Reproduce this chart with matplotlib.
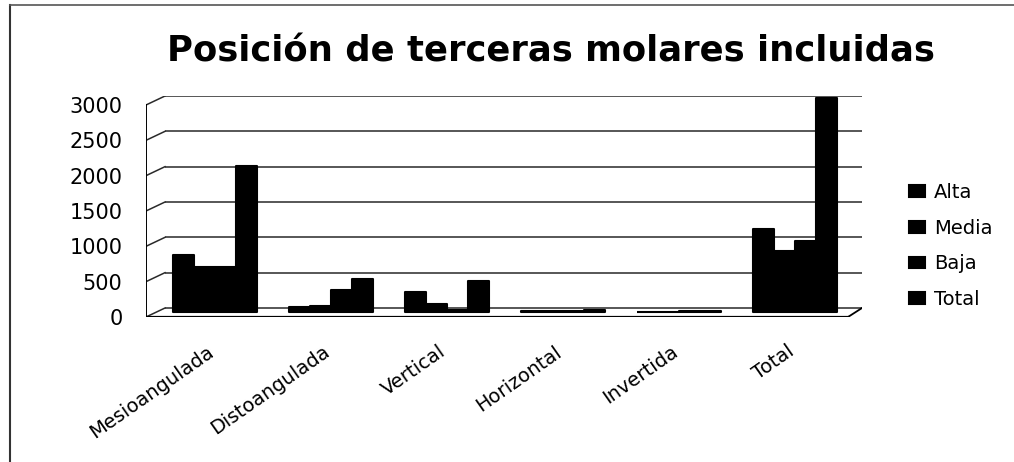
import matplotlib
matplotlib.use("Agg")
import matplotlib.pyplot as plt
from matplotlib.lines import Line2D
import matplotlib.transforms as mtransforms
import numpy as np

categories = ["Mesioangulada", "Distoangulada", "Vertical", "Horizontal", "Invertida", "Total"]
series_names = ["Alta", "Media", "Baja", "Total"]
alta = [800, 70, 290, 10, 5, 1170]
media = [630, 90, 120, 15, 5, 860]
baja = [640, 310, 30, 10, 10, 1000]
total = [2070, 470, 440, 35, 20, 3030]
yticks = [0, 500, 1000, 1500, 2000, 2500, 3000]
title = "Posición de terceras molares incluidas"

W, H = 1014, 462
fig = plt.figure(figsize=(W / 100, H / 100), dpi=100)
plt.rcParams['font.family'] = ['DejaVu Sans']

# axes placed in pixel terms
left_px, right_px, top_px, bot_px = 146, 862, 96, 317
ax = fig.add_axes([left_px / W, 1 - bot_px / H, (right_px - left_px) / W, (bot_px - top_px) / H])

px_per_unit_y = 212.0 / 3000.0      # pixels per value
base_px = 312                        # bar base pixel row
ymin = -(bot_px - base_px) / px_per_unit_y
ymax = (base_px - top_px) / px_per_unit_y
ax.set_ylim(ymin, ymax)
group_px = 116.0
x0_px = 214.5
xmin = (left_px - x0_px) / group_px
xmax = (right_px - x0_px) / group_px
ax.set_xlim(xmin, xmax)

for s in ax.spines.values():
    s.set_visible(False)

back_off = (base_px - 308) / px_per_unit_y     # back wall offset (data)
front_off = -(317 - base_px) / px_per_unit_y   # front axis offset (data)
back_left = (165 - x0_px) / group_px
front_right = (848 - x0_px) / group_px

# back wall gridlines
for v in yticks:
    ax.plot([back_left, xmax], [v + back_off, v + back_off], color="#3a3a3a", lw=1.2,
            zorder=1, solid_capstyle="butt")
    # diagonal ticks from front axis to back wall
    ax.plot([xmin, back_left], [v + front_off, v + back_off], color="#2a2a2a", lw=1.1, zorder=1)

# front left axis
ax.plot([xmin, xmin], [front_off, 3000 + front_off], color="black", lw=1.4, zorder=4)
# floor front edge and right edge
ax.plot([xmin, front_right], [front_off, front_off], color="black", lw=1.6, zorder=4)
ax.plot([front_right, xmax], [front_off, back_off], color="black", lw=1.3, zorder=4)

bw = 21.0 / group_px
x = np.arange(len(categories))
handles = []
for i, (name, vals) in enumerate(zip(series_names, [alta, media, baja, total])):
    b = ax.bar(x + (i - 1.5) * bw, vals, width=bw, color="black", edgecolor="black",
               linewidth=1.5, zorder=3)
    for p in b:
        p.set_joinstyle("round")
    handles.append(b)

# y tick labels at the front axis
ax.set_yticks([v + front_off for v in yticks])
ax.set_yticklabels([str(v) for v in yticks], fontsize=15)
ax.tick_params(axis="y", length=0, pad=17)

ax.set_xticks(x)
ax.set_xticklabels(categories, fontsize=14)
ax.tick_params(axis="x", length=0, pad=18)
offset = mtransforms.ScaledTranslation(-8 / 100, 0, fig.dpi_scale_trans)
for lab in ax.get_xticklabels():
    lab.set_rotation(35)
    lab.set_ha("right")
    lab.set_va("top")
    lab.set_rotation_mode("anchor")
    lab.set_transform(lab.get_transform() + offset)

# title
fig.text((165 + 937) / 2 / W, 1 - 52 / H, title, ha="center", va="center",
         fontsize=25.5, fontweight="bold")

# legend
leg = fig.legend(handles, series_names, loc="center left",
                 bbox_to_anchor=(891 / W, 1 - 246 / H), frameon=False, fontsize=14,
                 handlelength=0.85, handleheight=0.55, handletextpad=0.45, labelspacing=0.85)

# outer frame (left and top edges)
fig.add_artist(Line2D([9.5 / W, 9.5 / W], [0, 1 - 5 / H], transform=fig.transFigure,
                      color="#333333", lw=1.5))
fig.add_artist(Line2D([9.5 / W, 1], [1 - 5 / H, 1 - 5 / H], transform=fig.transFigure,
                      color="#555555", lw=1.2))

fig.savefig("out.png", dpi=100)
